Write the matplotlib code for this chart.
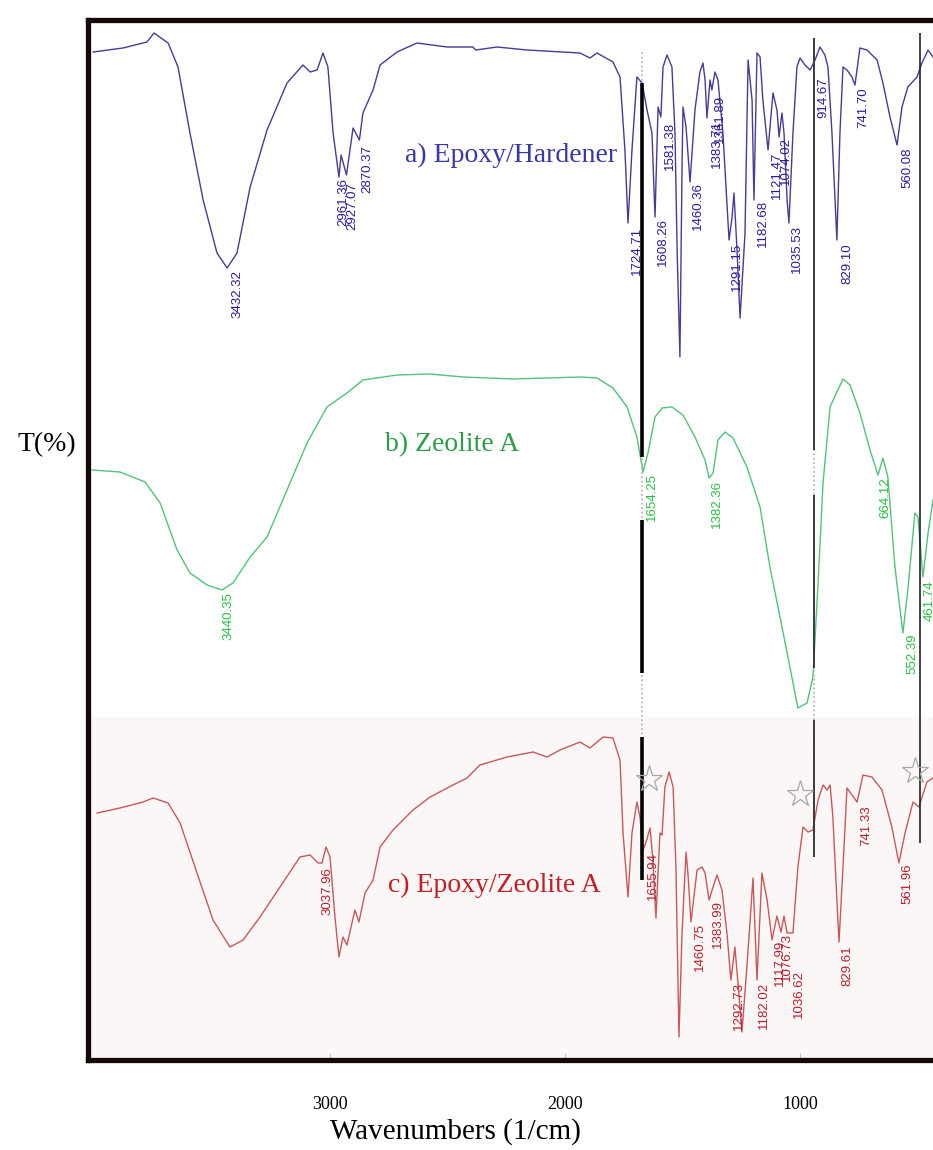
import numpy as np
import matplotlib
matplotlib.use('Agg')
import matplotlib.pyplot as plt

# --- spectra (wavenumber in 1/cm, T in arbitrary offset units) ---
wn_a = [4008, 3881, 3779, 3749, 3689, 3647, 3596, 3540, 3481, 3438, 3396, 3340, 3268, 3183,
        3115, 3085, 3055, 3030, 3009, 2987, 2962, 2953, 2930, 2902, 2875, 2860, 2817, 2787,
        2715, 2630, 2502, 2392, 2380, 2289, 2162, 1936, 1894, 1864, 1796, 1766, 1745, 1732,
        1715, 1694, 1672, 1651, 1630, 1617, 1604, 1592, 1583, 1566, 1545, 1532, 1523, 1511,
        1502, 1498, 1485, 1468, 1447, 1426, 1413, 1404, 1396, 1383, 1375, 1362, 1349, 1328,
        1302, 1289, 1281, 1268, 1255, 1234, 1221, 1204, 1196, 1183, 1170, 1158, 1136, 1115,
        1098, 1089, 1077, 1068, 1055, 1047, 1030, 1013, 1000, 979, 957, 936, 915, 894, 881,
        864, 843, 830, 817, 800, 779, 766, 745, 715, 672, 647, 617, 587, 566, 541, 502, 481,
        455, 434]
t_a = [100.8, 101.2, 101.8, 102.7, 101.7, 99.3, 92.7, 86.0, 80.7, 79.2, 80.7, 87.3, 93.0, 97.7,
       99.5, 98.8, 99.0, 100.7, 99.3, 92.7, 88.3, 90.5, 88.5, 93.2, 92.0, 94.7, 97.0, 99.5,
       100.8, 101.7, 101.3, 101.3, 101.0, 101.3, 101.0, 100.7, 100.2, 100.7, 99.8, 98.3, 91.0, 83.7,
       91.0, 98.3, 97.7, 95.0, 92.7, 84.3, 95.3, 94.3, 99.3, 100.5, 99.3, 92.7, 81.0, 70.3,
       89.3, 95.3, 93.3, 87.8, 95.0, 98.8, 99.7, 98.0, 94.2, 98.0, 97.0, 98.8, 98.0, 92.7,
       82.0, 84.3, 86.7, 81.0, 74.2, 82.7, 100.0, 96.0, 86.0, 100.7, 100.3, 96.0, 91.0, 96.7,
       95.0, 92.3, 94.7, 92.7, 86.0, 83.7, 92.7, 99.3, 100.2, 99.5, 99.0, 100.0, 101.3, 100.5, 99.3,
       92.7, 82.0, 92.7, 99.3, 99.0, 98.3, 97.5, 101.2, 101.0, 100.0, 97.7, 94.3, 91.5, 95.3, 97.3, 98.3, 99.7,
       101.0, 100.3]

wn_b = [4013, 3894, 3787, 3723, 3651, 3596, 3523, 3460, 3413, 3340, 3268, 3183, 3098, 3013,
        2928, 2860, 2715, 2574, 2434, 2221, 1936, 1864, 1796, 1736, 1694, 1668, 1647, 1617,
        1587, 1545, 1498, 1447, 1404, 1387, 1370, 1349, 1319, 1285, 1226, 1170, 1128, 1085,
        1043, 1009, 970, 945, 923, 902, 872, 843, 817, 787, 745, 702, 668, 647, 626, 596, 562,
        541, 511, 498, 477, 455, 434]
t_b = [59.0, 58.8, 57.8, 55.7, 51.0, 48.7, 47.5, 47.0, 47.7, 50.3, 52.3, 57.0, 61.7, 65.3,
       66.7, 68.0, 68.5, 68.6, 68.3, 68.1, 68.3, 68.2, 67.2, 65.3, 62.3, 58.8, 60.7, 64.3,
       65.2, 65.3, 64.5, 62.3, 60.0, 58.2, 58.7, 62.0, 62.8, 62.2, 59.3, 55.3, 49.3, 44.3,
       39.3, 35.2, 35.7, 38.3, 47.7, 57.7, 65.3, 66.8, 68.1, 67.5, 64.7, 61.0, 58.5, 60.2, 58.3, 49.3, 42.7,
       47.0, 54.7, 54.3, 48.3, 52.7, 56.0]

wn_c = [3991, 3894, 3796, 3753, 3689, 3638, 3566, 3498, 3426, 3370, 3298, 3213, 3128, 3085,
        3051, 3034, 3017, 3000, 2979, 2962, 2945, 2928, 2894, 2877, 2851, 2817, 2787, 2732,
        2647, 2574, 2477, 2417, 2362, 2247, 2136, 2077, 2021, 1936, 1894, 1838, 1796, 1766,
        1753, 1732, 1715, 1694, 1681, 1668, 1655, 1638, 1626, 1613, 1596, 1587, 1575, 1557,
        1540, 1528, 1515, 1502, 1485, 1477, 1464, 1438, 1417, 1404, 1387, 1370, 1353, 1332,
        1311, 1294, 1277, 1264, 1247, 1226, 1200, 1183, 1162, 1140, 1119, 1098, 1081, 1068,
        1055, 1030, 1009, 987, 966, 945, 923, 902, 885, 872, 860, 843, 834, 817, 800, 779,
        757, 732, 694, 651, 609, 579, 553, 519, 494, 460, 434]
t_c = [24.7, 25.2, 25.8, 26.2, 25.7, 23.7, 18.7, 14.0, 11.3, 12.0, 14.3, 17.3, 20.3, 20.5,
       19.7, 19.7, 21.3, 20.3, 14.3, 10.3, 12.3, 11.5, 15.0, 13.8, 16.7, 18.0, 21.3, 23.0,
       25.0, 26.3, 27.5, 28.2, 29.5, 30.3, 30.8, 30.3, 31.0, 31.8, 31.2, 32.3, 32.2, 30.0,
       22.7, 16.3, 22.7, 25.8, 24.3, 21.0, 21.8, 23.2, 20.0, 14.2, 22.7, 22.5, 27.3, 28.8,
       27.3, 19.3, 2.3, 12.7, 20.8, 18.7, 13.8, 19.0, 19.3, 18.7, 16.0, 17.3, 18.5, 17.0,
       12.7, 8.0, 11.3, 7.7, 2.8, 9.3, 18.2, 8.0, 18.7, 16.0, 12.0, 14.4, 12.8, 14.4,
       12.7, 12.7, 19.3, 23.3, 22.8, 23.0, 26.0, 27.5, 27.0, 27.5, 24.3, 16.0, 11.8, 19.3, 27.2, 26.5,
       25.8, 28.5, 28.3, 27.0, 23.3, 19.7, 22.7, 25.8, 25.3, 27.8, 28.2]

# peak labels: text, anchor wavenumber, top of text (T)
peaks_a = ['3432.32', '2961.36', '2927.07', '2870.37', '1724.71', '1608.26', '1581.38', '1460.36',
           '1383.71', '1361.89', '1291.15', '1182.68', '1121.47', '1074.02', '1035.53', '914.67',
           '829.10', '741.70', '560.08']
peaks_a_x = [3396, 2945, 2906, 2843, 1694, 1583, 1553, 1434, 1353, 1340, 1268, 1158, 1098, 1060,
             1013, 902, 800, 732, 545]
peaks_a_y = [79.0, 88.2, 87.8, 91.5, 83.3, 84.2, 93.8, 87.8, 94.0, 96.5, 81.7, 86.0, 90.8, 92.3,
             83.5, 98.3, 81.7, 97.3, 91.3]

peaks_b = ['3440.35', '1654.25', '1382.36', '664.12', '552.39', '461.74']
peaks_b_x = [3434, 1630, 1353, 638, 523, 447]
peaks_b_y = [46.8, 58.7, 58.0, 58.3, 42.7, 48.0]

peaks_c = ['3037.96', '1655.94', '1460.75', '1383.99', '1292.73', '1182.02', '1117.99', '1076.73',
           '1036.62', '829.61', '741.33', '561.96']
peaks_c_x = [3009, 1626, 1426, 1349, 1260, 1153, 1085, 1055, 1004, 800, 719, 541]
peaks_c_y = [19.3, 20.8, 13.7, 16.0, 7.8, 7.8, 12.0, 12.7, 9.0, 11.5, 25.5, 19.7]

# reference lines and star marks
vlines_x = [1672, 940, 489]
stars_x = [1643, 1000, 511]
stars_y = [28.1, 26.6, 28.9]

col_a, lab_a = '#463c94', '#2a1c9e'
col_b, lab_b = '#52c27c', '#2cc044'
col_c, lab_c = '#c8585c', '#b81e2c'

fig = plt.figure(figsize=(9.33, 11.5), dpi=100)
ax = fig.add_axes([88 / 933, 90 / 1150, 845 / 933, 1040 / 1150])
ax.set_xlim(4030, 434)
ax.set_ylim(0, 104)

# faint pink band behind the bottom spectrum
ax.axhspan(0, 34.3, color='#fcf7f7', zorder=0, lw=0)

ax.plot(wn_a, t_a, color=col_a, lw=1.0)
ax.plot(wn_b, t_b, color=col_b, lw=1.0)
ax.plot(wn_c, t_c, color=col_c, lw=1.0)

for txts, xs, ys, c in [(peaks_a, peaks_a_x, peaks_a_y, lab_a),
                        (peaks_b, peaks_b_x, peaks_b_y, lab_b),
                        (peaks_c, peaks_c_x, peaks_c_y, lab_c)]:
    for s, x, y in zip(txts, xs, ys):
        ax.text(x, y, s, rotation=90, ha='center', va='top', color=c,
                fontsize=9.5, family='Liberation Sans')

# vertical marker lines: dotted grey full span, solid segments over it
ax.vlines(vlines_x[0], 18.0, 100.8, color='#b0b0b0', lw=1.2, linestyles=':')
ax.vlines([vlines_x[0]] * 3, [60.3, 38.7, 18.0], [97.7, 54.0, 32.3], color='black', lw=2.6)
ax.vlines(vlines_x[1], 20.3, 102.2, color='#b0b0b0', lw=1.2, linestyles=':')
ax.vlines([vlines_x[1]] * 3, [61.0, 39.2, 20.3], [102.2, 56.5, 34.0], color='#3a3a3a', lw=1.4)
ax.vlines(vlines_x[2], 21.7, 102.7, color='#222222', lw=1.2)

ax.plot(stars_x, stars_y, ls='none', marker='*', ms=20, mfc='none', mec='#a8a8a8', mew=0.9)

serif = ['Liberation Serif', 'DejaVu Serif']
ax.text(2681, 90.5, 'a) Epoxy/Hardener', color='#3838a6', fontsize=20, family=serif, va='center')
ax.text(2766, 61.5, 'b) Zeolite A', color='#2e9c48', fontsize=20, family=serif, va='center')
ax.text(2753, 17.5, 'c) Epoxy/Zeolite A', color='#c41e26', fontsize=20, family=serif, va='center')

for side in ['left', 'top', 'bottom']:
    ax.spines[side].set_linewidth(3.8)
    ax.spines[side].set_color('#140808')
ax.spines['right'].set_visible(False)

ax.set_yticks([])
ax.set_xticks([3000, 2000, 1000])
ax.tick_params(axis='x', direction='in', length=5, width=0.8, color='#c8c8c8', pad=26,
               labelsize=13)
for lbl in ax.get_xticklabels():
    lbl.set_family(serif)

fig.text(455 / 933, 1 - 1132 / 1150, 'Wavenumbers (1/cm)', ha='center', va='center',
         fontsize=21, family=serif)
fig.text(47 / 933, 1 - 445 / 1150, 'T(%)', ha='center', va='center', fontsize=20, family=serif)

fig.savefig('out.png', dpi=100, facecolor='white')
